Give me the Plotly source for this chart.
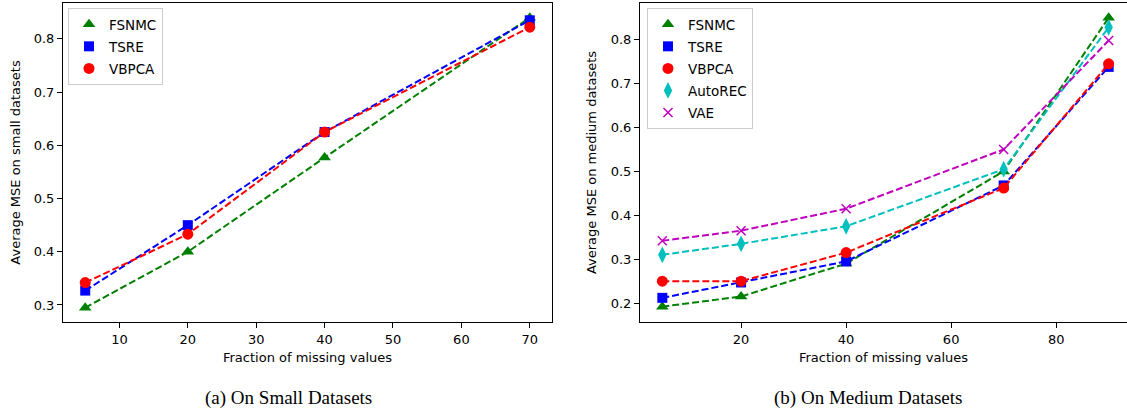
import plotly.graph_objects as go

# ---- data ----
x_small = [5, 20, 40, 70]
small_fsnmc = [0.295, 0.400, 0.577, 0.840]
small_tsre = [0.327, 0.450, 0.625, 0.835]
small_vbpca = [0.342, 0.433, 0.625, 0.822]

x_medium = [5, 20, 40, 70, 90]
med_fsnmc = [0.192, 0.215, 0.290, 0.500, 0.850]
med_tsre = [0.212, 0.247, 0.295, 0.468, 0.738]
med_vbpca = [0.250, 0.250, 0.315, 0.462, 0.745]
med_autorec = [0.310, 0.335, 0.375, 0.505, 0.828]
med_vae = [0.342, 0.365, 0.415, 0.550, 0.798]

small_xticks = [10, 20, 30, 40, 50, 60, 70]
medium_xticks = [20, 40, 60, 80]
small_yticks = [0.3, 0.4, 0.5, 0.6, 0.7, 0.8]
medium_yticks = [0.2, 0.3, 0.4, 0.5, 0.6, 0.7, 0.8]

W, H = 1127, 412

styles = {
    "FSNMC": dict(color="#008000", symbol="triangle-up", size=11),
    "TSRE": dict(color="#0000ff", symbol="square", size=10),
    "VBPCA": dict(color="#ff0000", symbol="circle", size=11),
    "AutoREC": dict(color="#00bfbf", symbol="diamond-tall", size=12),
    "VAE": dict(color="#bf00bf", symbol="x-thin", size=9),
}

fig = go.Figure()

def add_series(name, xs, ys, xa, ya, legend):
    st = styles[name]
    fig.add_trace(go.Scatter(
        x=xs, y=ys, mode="lines", xaxis=xa, yaxis=ya, showlegend=False,
        line=dict(color=st["color"], width=2, dash="7px,3px"), hoverinfo="skip"))
    mk = dict(color=st["color"], symbol=st["symbol"], size=st["size"])
    if st["symbol"] == "x-thin":
        mk["line"] = dict(color=st["color"], width=1.5)
    fig.add_trace(go.Scatter(
        x=xs, y=ys, mode="markers", xaxis=xa, yaxis=ya, name=name,
        marker=mk, legend=legend, legendgroup=legend + name))

add_series("FSNMC", x_small, small_fsnmc, "x", "y", "legend")
add_series("TSRE", x_small, small_tsre, "x", "y", "legend")
add_series("VBPCA", x_small, small_vbpca, "x", "y", "legend")

add_series("FSNMC", x_medium, med_fsnmc, "x2", "y2", "legend2")
add_series("TSRE", x_medium, med_tsre, "x2", "y2", "legend2")
add_series("VBPCA", x_medium, med_vbpca, "x2", "y2", "legend2")
add_series("AutoREC", x_medium, med_autorec, "x2", "y2", "legend2")
add_series("VAE", x_medium, med_vae, "x2", "y2", "legend2")

font = dict(family="DejaVu Sans", size=13, color="black")
lfont = dict(family="DejaVu Sans", size=13.5, color="black")

def px_x(p):
    return p / W

def px_y(p):
    return 1 - p / H

ydom = [px_y(322), px_y(3)]
axcommon = dict(showline=True, linecolor="black", linewidth=1, ticks="outside",
                ticklen=5, tickcolor="black", showgrid=False, zeroline=False,
                tickfont=font)

fig.update_layout(
    width=W, height=H,
    margin=dict(l=0, r=0, t=0, b=0),
    paper_bgcolor="white", plot_bgcolor="white",
    font=font,
    xaxis=dict(domain=[px_x(63), px_x(552)], range=[1.75, 73.25], anchor="y",
               tickvals=small_xticks, mirror=True,
               title=dict(text="Fraction of missing values", font=font, standoff=7),
               **axcommon),
    yaxis=dict(domain=ydom, range=[0.268, 0.8675], anchor="x",
               tickvals=small_yticks, tickformat=".1f", mirror=True,
               title=dict(text="Average MSE on small datasets", font=font, standoff=10),
               **axcommon),
    xaxis2=dict(domain=[px_x(640), 1.0], range=[0.75, 93.49], anchor="y2",
                tickvals=medium_xticks, mirror=True,
                title=dict(text="Fraction of missing values", font=font, standoff=7),
                **axcommon),
    yaxis2=dict(domain=ydom, range=[0.157, 0.8835], anchor="x2",
                tickvals=medium_yticks, tickformat=".1f", mirror=False,
                title=dict(text="Average MSE on medium datasets", font=font, standoff=11),
                **axcommon),
    legend=dict(x=px_x(68), y=px_y(8), xanchor="left", yanchor="top",
                bordercolor="#cccccc", borderwidth=1, bgcolor="white",
                font=lfont, tracegroupgap=1.5, itemwidth=30),
    legend2=dict(x=px_x(647), y=px_y(8), xanchor="left", yanchor="top",
                 bordercolor="#cccccc", borderwidth=1, bgcolor="white",
                 font=lfont, tracegroupgap=1.5, itemwidth=30),
    showlegend=True,
)

cap_font = dict(family="Liberation Serif", size=19, color="black")
fig.add_annotation(text="(a) On Small Datasets", x=px_x(288), y=px_y(398),
                   xref="paper", yref="paper", showarrow=False, font=cap_font,
                   xanchor="center", yanchor="middle")
fig.add_annotation(text="(b) On Medium Datasets", x=px_x(868), y=px_y(398),
                   xref="paper", yref="paper", showarrow=False, font=cap_font,
                   xanchor="center", yanchor="middle")

fig.write_html("out.html", config={"displayModeBar": False},
               post_script="document.body.style.margin='0';document.body.style.padding='0';")
